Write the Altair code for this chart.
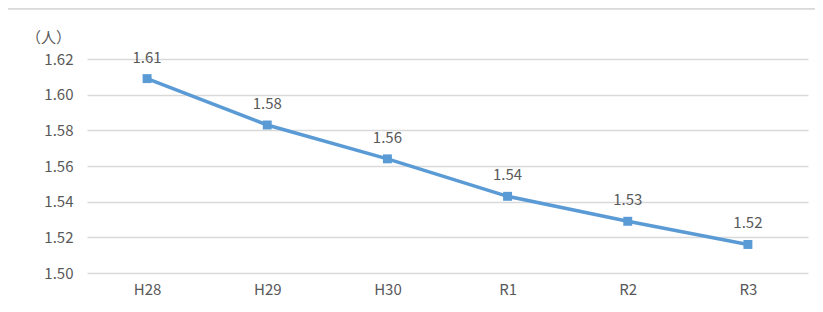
import altair as alt
import pandas as pd

years = ["H28", "H29", "H30", "R1", "R2", "R3"]
values = [1.609, 1.583, 1.564, 1.543, 1.529, 1.516]
labels = ["1.61", "1.58", "1.56", "1.54", "1.53", "1.52"]
y_ticks = [1.50, 1.52, 1.54, 1.56, 1.58, 1.60, 1.62]

df = pd.DataFrame({"year": years, "value": values, "label": labels})

FONT = "Noto Sans CJK JP"
GRAY = "#595959"
BLUE = "#5B9BD5"
FS = 15

x_enc = alt.X("year:N", sort=years,
              scale=alt.Scale(type="point", padding=0.5),
              axis=alt.Axis(title=None, labelAngle=0, domain=False, ticks=False,
                            grid=False, labelPadding=9, labelFontSize=FS,
                            labelColor=GRAY, labelFont=FONT))
y_enc = alt.Y("value:Q",
              scale=alt.Scale(domain=[1.50, 1.62], nice=False, zero=False),
              axis=alt.Axis(values=y_ticks, format=".2f", domain=False, ticks=False,
                            grid=True, gridColor="#d9d9d9", gridWidth=1.5,
                            labelPadding=14, labelFontSize=FS, labelColor=GRAY,
                            labelFont=FONT,
                            title="（人）", titleAngle=0, titleX=-39, titleY=-22,
                            titleAlign="center", titleBaseline="middle",
                            titleFontSize=FS, titleFontWeight="normal",
                            titleColor=GRAY, titleFont=FONT))

base = alt.Chart(df)
line = base.mark_line(color=BLUE, strokeWidth=3.5).encode(x=x_enc, y=y_enc)
pts = base.mark_square(color=BLUE, size=80, opacity=1).encode(x=x_enc, y=y_enc)
txt = base.mark_text(dy=-21, fontSize=FS, color=GRAY, font=FONT).encode(
    x=x_enc, y=y_enc, text="label:N")

frame_top = alt.Chart(df).mark_rule(color="#d9d9d9", strokeWidth=1.5, clip=False).encode(
    x=alt.value(-87), x2=alt.value(740), y=alt.value(-50.5))

chart = alt.layer(frame_top, line, pts, txt).properties(
    width=721, height=214,
    background="white",
    autosize=alt.AutoSizeParams(type="none"),
    padding={"left": 79, "top": 51, "right": 7, "bottom": 31},
).configure_view(strokeWidth=0, stroke="transparent")

chart.save("out.html", embed_options={"renderer": "svg", "actions": False})
